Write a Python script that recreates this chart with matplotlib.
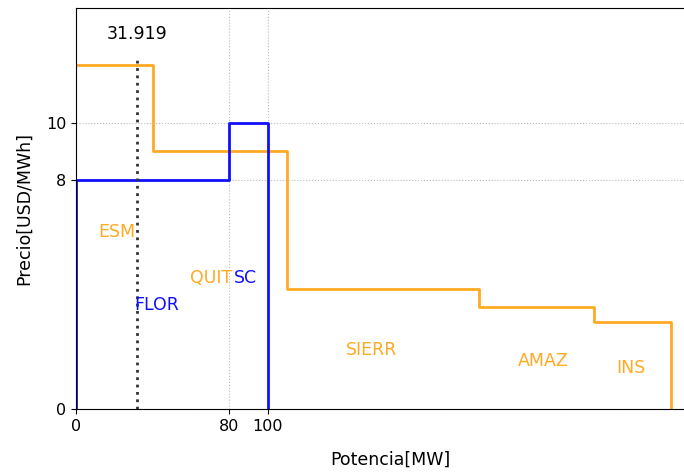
import numpy as np
import matplotlib.pyplot as plt

# curva de oferta (escalones) y demanda
pot_oferta = [0, 40, 110, 210, 270, 310]
precio_oferta = [12, 9, 4.2, 3.55, 3.05]
pot_demanda = [0, 80, 100]
precio_demanda = [8, 10]
despacho = 31.919

nombres_oferta = ['ESM', 'QUIT', 'SIERR', 'AMAZ', 'INS']
pos_oferta = [(11.5, 6.0), (59.5, 4.4), (140.5, 1.9), (230.5, 1.5), (281.5, 1.25)]
nombres_demanda = ['FLOR', 'SC']
pos_demanda = [(30.3, 3.45), (82.5, 4.4)]

naranja = '#FFAA22'
azul = '#1010FF'


def escalones(x, y):
    # x: bordes, y: niveles -> polilínea con caída final a cero
    xs, ys = [], []
    for i in range(len(y)):
        xs += [x[i], x[i + 1]]
        ys += [y[i], y[i]]
    xs.append(x[-1])
    ys.append(0)
    return xs, ys


fig = plt.figure(figsize=(6.84, 4.73), dpi=100)
ax = fig.add_axes([0.111, 0.135, 0.92, 0.848])

xo, yo = escalones(pot_oferta, precio_oferta)
ax.plot(xo, yo, color=naranja, lw=2)
xd, yd = escalones(pot_demanda, precio_demanda)
ax.plot([0] + xd, [0] + yd, color=azul, lw=2)

ax.plot([despacho, despacho], [0, 12.3], color='#333333', ls=':', lw=2)
ax.text(despacho, 13.1, '%.3f' % despacho, ha='center', va='center', fontsize=12.5)

for n, (x, y) in zip(nombres_oferta, pos_oferta):
    ax.text(x, y, n, color=naranja, fontsize=12.5)
for n, (x, y) in zip(nombres_demanda, pos_demanda):
    ax.text(x, y, n, color=azul, fontsize=12.5)

ax.set_xlim(0, 328)
ax.set_ylim(0, 14)
ax.set_xticks([0, 80, 100])
ax.set_yticks([0, 8, 10])
ax.grid(True, ls=':', color='#bbbbbb', lw=0.8)
ax.tick_params(labelsize=11.5)
ax.set_xlabel('Potencia[MW]', fontsize=12.5, labelpad=12)
ax.set_ylabel('Precio[USD/MWh]', fontsize=12.5, labelpad=9)

plt.savefig('out.png')
